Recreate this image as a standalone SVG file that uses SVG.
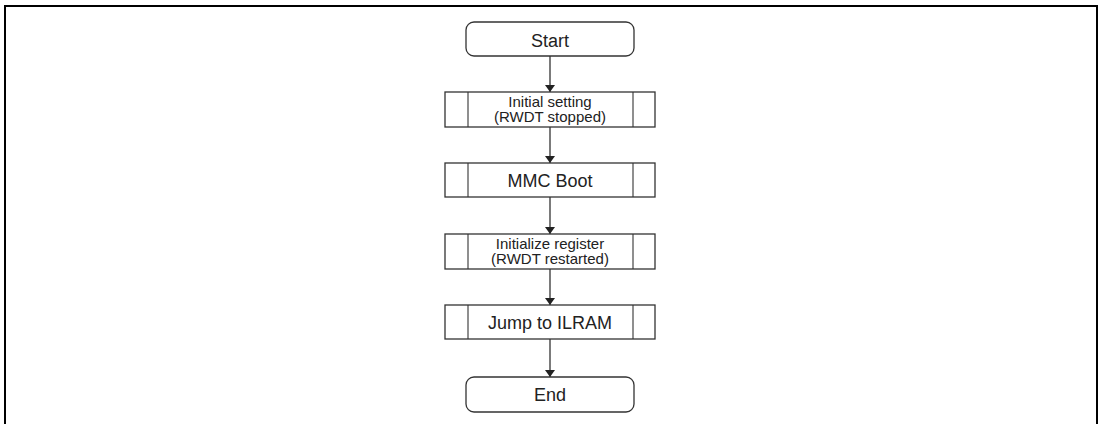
<svg xmlns="http://www.w3.org/2000/svg" width="1100" height="424" viewBox="0 0 1100 424">
<defs>
<marker id="ah" markerWidth="7" markerHeight="10" refX="7" refY="5" orient="auto" markerUnits="userSpaceOnUse" viewBox="0 0 7 10">
<path d="M0,0 L7,5 L0,10 Z" fill="#222"/>
</marker>
<style>
.term{fill:#fff;stroke:#333;stroke-width:1.3}
.proc{fill:#fff;stroke:#333;stroke-width:1.3}
.bar{stroke:#333;stroke-width:1.1}
.t{font-family:"Liberation Sans",Arial,sans-serif;fill:#222;text-anchor:middle}
.big{font-size:18px}
.sm{font-size:15px}
.c{stroke:#222;stroke-width:1.2;fill:none}
</style>
</defs>
<rect x="0" y="0" width="1100" height="424" fill="#fff"/>
<rect x="5" y="6" width="1092" height="440" fill="none" stroke="#000" stroke-width="2"/>
<g id="connectors">
<line class="c" x1="550" y1="56" x2="550" y2="92" marker-end="url(#ah)"/>
<line class="c" x1="550" y1="127" x2="550" y2="163" marker-end="url(#ah)"/>
<line class="c" x1="550" y1="197" x2="550" y2="234" marker-end="url(#ah)"/>
<line class="c" x1="550" y1="269" x2="550" y2="305" marker-end="url(#ah)"/>
<line class="c" x1="550" y1="339" x2="550" y2="377" marker-end="url(#ah)"/>
</g>
<g id="start">
<rect class="term" x="466" y="22" width="168" height="34" rx="8"/>
<text class="t big" x="550" y="47">Start</text>
</g>
<g id="init">
<rect class="proc" x="445" y="92" width="210" height="35"/>
<line class="bar" x1="468" y1="92" x2="468" y2="127"/>
<line class="bar" x1="633" y1="92" x2="633" y2="127"/>
<text class="t sm" x="550" y="107">Initial setting</text>
<text class="t sm" x="550" y="122">(RWDT stopped)</text>
</g>
<g id="mmc">
<rect class="proc" x="445" y="163" width="210" height="34"/>
<line class="bar" x1="468" y1="163" x2="468" y2="197"/>
<line class="bar" x1="633" y1="163" x2="633" y2="197"/>
<text class="t big" x="550" y="186.5">MMC Boot</text>
</g>
<g id="initreg">
<rect class="proc" x="445" y="234" width="210" height="35"/>
<line class="bar" x1="468" y1="234" x2="468" y2="269"/>
<line class="bar" x1="633" y1="234" x2="633" y2="269"/>
<text class="t sm" x="550" y="249">Initialize register</text>
<text class="t sm" x="550" y="264">(RWDT restarted)</text>
</g>
<g id="jump">
<rect class="proc" x="445" y="305" width="210" height="34"/>
<line class="bar" x1="468" y1="305" x2="468" y2="339"/>
<line class="bar" x1="633" y1="305" x2="633" y2="339"/>
<text class="t big" x="550" y="328.5">Jump to ILRAM</text>
</g>
<g id="end">
<rect class="term" x="466" y="377" width="168" height="35" rx="8"/>
<text class="t big" x="550" y="401">End</text>
</g>
</svg>
